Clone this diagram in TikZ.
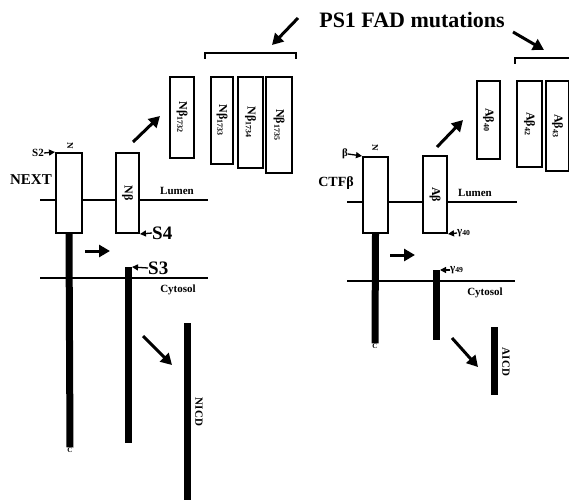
\documentclass[tikz,border=0pt]{standalone}
\usepackage{fontspec}
\setmainfont{Liberation Serif}
\usetikzlibrary{arrows.meta}
\begin{document}
\begin{tikzpicture}[x=1pt, y=-1pt, >={Triangle[length=11pt,width=12pt]},
    tm/.style={draw, line width=2pt, fill=white, inner sep=0pt},
    lbl/.style={font=\bfseries\fontsize{12}{12}\selectfont, rotate=-90, inner sep=0pt},
    big/.style={->, line width=3pt},
    tip/.style={-{Triangle[length=6pt,width=6pt]}, line width=1.3pt},
    cut/.style={font=\bfseries\fontsize{19}{19}\selectfont, inner sep=0pt},
    tag/.style={font=\bfseries\fontsize{11}{11}\selectfont, inner sep=0pt},
    bar/.style={line width=7pt}]
\useasboundingbox (0,0) rectangle (569,500);
% membranes
\draw[line width=1.8pt] (40,200)--(208,200) (347,202)--(517,202);
\draw[line width=2.6pt] (40,278)--(208,278) (347,281)--(515,281);
\node[tag] (lumL) at (177,191) {Lumen};
\node[tag] (lumR) at (475,193) {Lumen};
\node[tag] (cytL) at (178,290) {Cytosol};
\node[tag] (cytR) at (485,293) {Cytosol};
%% Notch
\node[tm, minimum width=26, minimum height=80] (next) at (69,193) {};
\node[tm, minimum width=23, minimum height=80] (nb) at (127.5,193) {};
\node[lbl] at (nb) {Nβ};
\node[lbl, font=\bfseries\fontsize{9}{9}\selectfont] (nl) at (70,146) {N};
\node[tag, anchor=east] (s2) at (44,153) {S2};
\draw[tip] (s2.east) -- (next.north west);
\node[font=\bfseries\fontsize{15}{15}\selectfont, inner sep=0pt] (nxt) at (31,180) {NEXT};
\node[cut, anchor=west] (s4) at (152,233) {S4};
\draw[tip] (s4.west) -- (nb.south east);
\node[font=\bfseries\fontsize{7}{7}\selectfont, inner sep=0pt] (cl) at (70,450) {C};
\draw[bar] (next.south) -- (cl.north);
\coordinate (s3top) at (128,267);
\coordinate (s3bot) at (128,443);
\draw[bar] (s3top) -- (s3bot);
\node[cut, anchor=west] (s3) at (148,268) {S3};
\draw[tip] (s3.west) -- ([xshift=4pt]s3top);
\coordinate (nicdtop) at (187,323);
\coordinate (nicdbot) at (187,500);
\draw[bar] (nicdtop) -- (nicdbot);
\node[lbl, font=\bfseries\fontsize{11}{11}\selectfont] (nicd) at (199,412) {NICD};
\foreach \name/\x/\w/\h/\s in {nb1732/182/24/81/1732, nb1733/222/22/87/1733,
    nb1734/250.5/25/91/1734, nb1735/279/26/96/1735}
{
    \node[tm, minimum width=\w, minimum height=\h, anchor=north] (\name) at (\x,76) {};
    \node[lbl] at (\name) {Nβ\textsubscript{\s}};
}
\draw[line width=2pt] (205,59)--(205,53)--(296,53)--(296,59);
%% APP
\node[tm, minimum width=25, minimum height=76] (ctf) at (375.5,195) {};
\node[tm, minimum width=24, minimum height=77] (ab) at (435,194.5) {};
\node[lbl] at (ab) {Aβ};
\node[lbl, font=\bfseries\fontsize{9}{9}\selectfont] (nr) at (375,148) {N};
\node[tag, anchor=east] (beta) at (348,154) {β};
\draw[tip] (beta.east) -- (ctf.north west);
\node[font=\bfseries\fontsize{14}{14}\selectfont, inner sep=0pt] (ctfb) at (336,183) {CTFβ};
\node[tag, anchor=west] (g40) at (457,233) {γ\textsubscript{40}};
\draw[tip] (g40.west) -- (ab.south east);
\node[font=\bfseries\fontsize{7}{7}\selectfont, inner sep=0pt] (cr) at (375,346) {C};
\draw[bar] (ctf.south) -- (cr.north);
\coordinate (g49top) at (436,270);
\coordinate (g49bot) at (436,340);
\draw[bar] (g49top) -- (g49bot);
\node[tag, anchor=west] (g49) at (450,270) {γ\textsubscript{49}};
\draw[tip] (g49.west) -- ([xshift=4pt]g49top);
\coordinate (aicdtop) at (494,327);
\coordinate (aicdbot) at (494,395);
\draw[bar] (aicdtop) -- (aicdbot);
\node[lbl, font=\bfseries\fontsize{11}{11}\selectfont] (aicd) at (506,362) {AICD};
\foreach \name/\x/\w/\h/\s in {ab40/488.5/23/78/40, ab42/529.5/25/86/42, ab43/557.5/23/90/43}
{
    \node[tm, minimum width=\w, minimum height=\h, anchor=north] (\name) at (\x,80) {};
    \node[lbl] at (\name) {Aβ\textsubscript{\s}};
}
\draw[line width=2pt] (515,64)--(515,58)--(569,58);
%% mutations
\node[font=\bfseries\fontsize{22}{22}\selectfont, inner sep=0pt] (fad) at (412,20) {PS1 FAD mutations};
\coordinate (fadL) at (298,18);
\coordinate (brL) at (272,45);
\coordinate (fadR) at (513,32);
\coordinate (brR) at (544,50);
\draw[big] (fadL) -- (brL);
\draw[big] (fadR) -- (brR);
% cleavage steps
\foreach \a/\b/\c/\d in {85/251/110/251, 133/142/160/116, 143/336/172/365,
    390/255/415/255, 437/147/463/120, 452/338/478/367}
    \draw[big] (\a,\b) -- (\c,\d);
\end{tikzpicture}
\end{document}
